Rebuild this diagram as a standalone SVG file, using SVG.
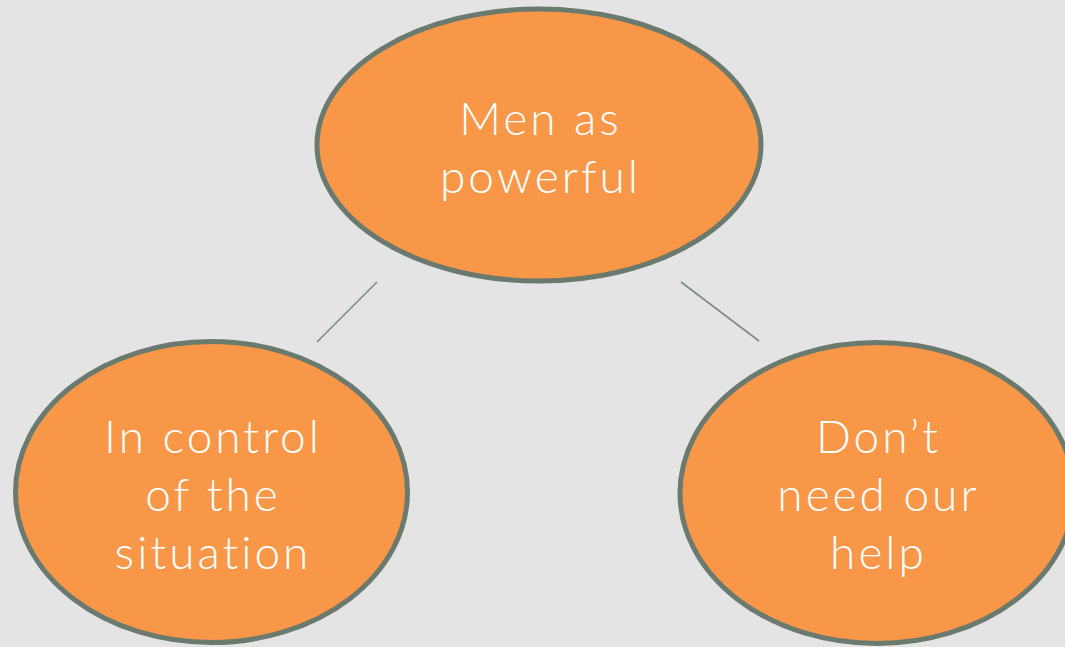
<svg xmlns="http://www.w3.org/2000/svg" width="1065" height="647" viewBox="0 0 1065 647">
  <style>
    .bubble { fill: #f89748; stroke: #6b7a6f; stroke-width: 5; }
    .label { font-family: "Lato", "Open Sans", sans-serif; font-weight: 300; font-size: 46px; letter-spacing: 3px; font-variant-ligatures: none; fill: #ffffff; text-anchor: middle; }
    .link { stroke: #7a8c80; stroke-width: 1.6; fill: none; }
  </style>
  <rect width="1065" height="647" fill="#e4e4e4"/>
  <g id="connectors">
    <line class="link" x1="377" y1="282" x2="317" y2="342"/>
    <line class="link" x1="681" y1="282" x2="759" y2="341"/>
  </g>
  <g id="node-top">
    <ellipse class="bubble" cx="539" cy="145" rx="222" ry="136"/>
    <text class="label" x="540.5" y="135">Men as</text>
    <text class="label" x="540.5" y="193">powerful</text>
  </g>
  <g id="node-left">
    <ellipse class="bubble" cx="211.5" cy="492" rx="196" ry="150.5"/>
    <text class="label" x="213" y="453">In control</text>
    <text class="label" x="213" y="511">of the</text>
    <text class="label" x="213" y="569">situation</text>
  </g>
  <g id="node-right">
    <ellipse class="bubble" cx="877" cy="493" rx="197" ry="150.5"/>
    <text class="label" x="878.5" y="453">Don’t</text>
    <text class="label" x="878.5" y="511">need our</text>
    <text class="label" x="878.5" y="569">help</text>
  </g>
</svg>
